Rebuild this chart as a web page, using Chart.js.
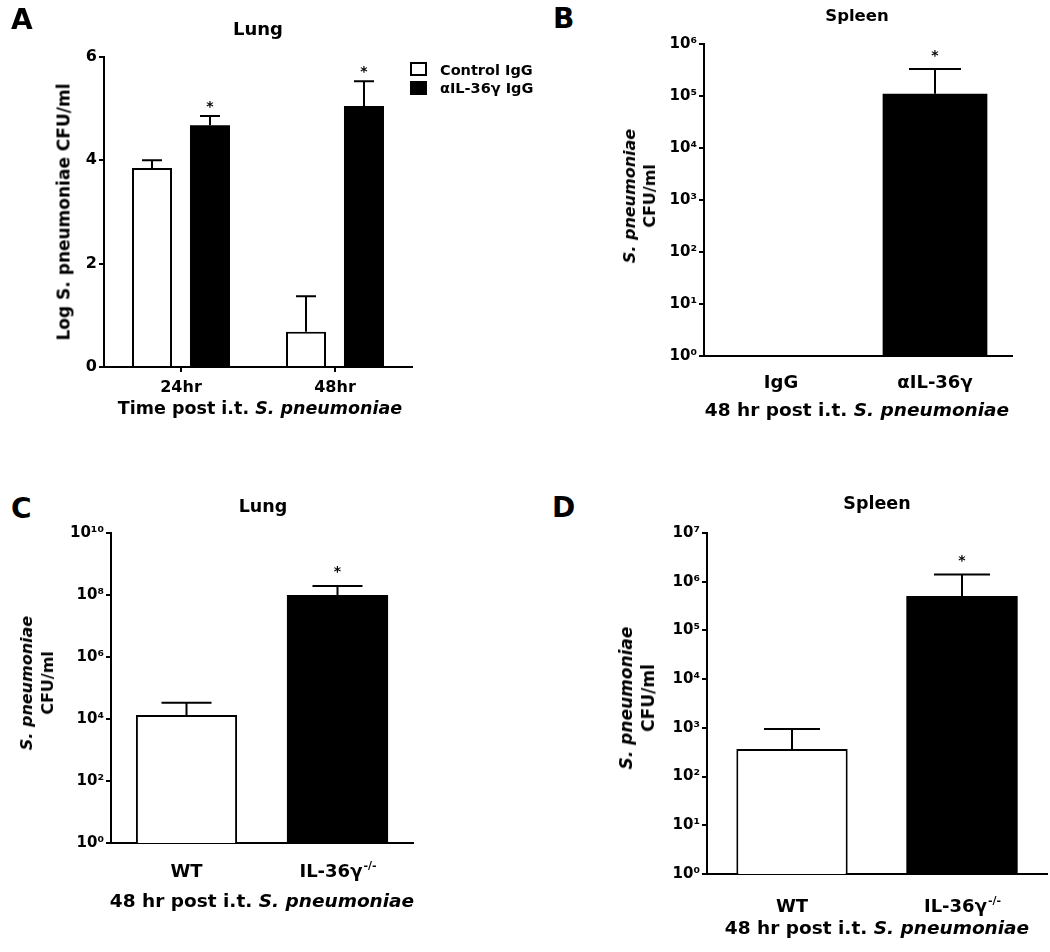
<!DOCTYPE html>
<html>
<head>
<meta charset="utf-8">
<script src="https://cdn.jsdelivr.net/npm/chart.js@4.4.1/dist/chart.umd.min.js"></script>
<style>
html, body { margin: 0; padding: 0; background: #fff; }
#fig { position: relative; width: 1050px; height: 952px; overflow: hidden;
       font-family: "DejaVu Sans", sans-serif; font-weight: bold; color: #000; }
canvas { position: absolute; }
.t { position: absolute; white-space: nowrap; line-height: 1; }
.box { position: absolute; box-sizing: border-box; border: 2px solid #000; }
</style>
</head>
<body>
<div id="fig"></div>
<script>
// ---------------- DATA ----------------
// A: lung, log CFU/ml
const catsA = ['24hr', '48hr'];
const controlA = [3.85, 0.68];
const controlSemA = [0.15, 0.69];
const antiA = [4.68, 5.05];
const antiSemA = [0.18, 0.48];
const starsControlA = ['', ''];
const starsAntiA = ['*', '*'];
const ticksA = [0, 2, 4, 6];

// B: spleen, 48 hr
const catsB = ['IgG', 'αIL-36γ'];
const valsB = [1, 1.1e5];
const semB = [0, 2.2e5];
const starsB = ['', '*'];
const ticksB = [1, 1e1, 1e2, 1e3, 1e4, 1e5, 1e6];

// C: lung, WT vs knockout
const catsC = ['WT', 'IL-36γ'];
const supsC = ['', '-/-'];
const valsC = [1.35e4, 1.0e8];
const semC = [2.0e4, 9.5e7];
const starsC = ['', '*'];
const ticksC = [1, 1e2, 1e4, 1e6, 1e8, 1e10];

// D: spleen, WT vs knockout
const catsD = ['WT', 'IL-36γ'];
const supsD = ['', '-/-'];
const valsD = [3.7e2, 5.1e5];
const semD = [5.8e2, 8.9e5];
const starsD = ['', '*'];
const ticksD = [1, 1e1, 1e2, 1e3, 1e4, 1e5, 1e6, 1e7];

const FONT = '"DejaVu Sans", sans-serif';
const SUP = { '0': '⁰', '1': '¹', '2': '²', '3': '³', '4': '⁴', '5': '⁵', '6': '⁶', '7': '⁷', '8': '⁸', '9': '⁹' };
const fig = document.getElementById('fig');

// ================= PLUGINS =================
// upper SEM whisker + significance star above each bar
const errBars = {
    id: 'errBars',
    afterDatasetsDraw(chart, args, opts) {
        const ctx = chart.ctx;
        const y = chart.scales.y;
        chart.data.datasets.forEach((ds, i) => {
            chart.getDatasetMeta(i).data.forEach((bar, j) => {
                const v = ds.data[j];
                const e = ds.sem ? ds.sem[j] : 0;
                const top = y.getPixelForValue(v + e);
                ctx.save();
                ctx.strokeStyle = '#000';
                ctx.lineWidth = 2;
                if (e > 0) {
                    ctx.beginPath();
                    ctx.moveTo(bar.x, bar.y);
                    ctx.lineTo(bar.x, top);
                    ctx.moveTo(bar.x - opts.cap, top);
                    ctx.lineTo(bar.x + opts.cap, top);
                    ctx.stroke();
                }
                const s = ds.stars && ds.stars[j];
                if (s) {
                    ctx.fillStyle = '#000';
                    ctx.font = 'bold 14px ' + FONT;
                    ctx.textAlign = 'center';
                    ctx.textBaseline = 'alphabetic';
                    ctx.fillText(s, bar.x, top - opts.star);
                }
                ctx.restore();
            });
        });
    }
};

// category labels under the x axis, with optional superscript
const xLabels = {
    id: 'xLabels',
    afterDraw(chart, args, opts) {
        const ctx = chart.ctx;
        const x = chart.scales.x;
        const base = chart.chartArea.bottom + opts.offset;
        ctx.save();
        ctx.fillStyle = '#000';
        ctx.textBaseline = 'alphabetic';
        ctx.textAlign = 'left';
        opts.labels.forEach((lab, i) => {
            const cx = x.getPixelForValue(i);
            const sup = (opts.sups && opts.sups[i]) || '';
            const f1 = 'bold ' + opts.size + 'px ' + FONT;
            const f2 = 'bold ' + Math.round(opts.size * 0.6) + 'px ' + FONT;
            ctx.font = f1;
            const w1 = ctx.measureText(lab).width;
            ctx.font = f2;
            const w2 = sup ? ctx.measureText(sup).width : 0;
            const left = cx - (w1 + w2) / 2;
            ctx.font = f1;
            ctx.fillText(lab, left, base);
            if (sup) {
                ctx.font = f2;
                ctx.fillText(sup, left + w1 + 1, base - opts.size * 0.42);
            }
        });
        ctx.restore();
    }
};

// ================= HELPERS =================
function addText(html, x, base, size, align) {
    const d = document.createElement('div');
    d.className = 't';
    d.innerHTML = html;
    d.style.fontSize = size + 'px';
    d.style.left = x + 'px';
    d.style.top = (base - 0.846 * size) + 'px';
    if (align === 'center') d.style.transform = 'translateX(-50%)';
    fig.appendChild(d);
}

function addRotated(html, cx, cy, size, lh) {
    const d = document.createElement('div');
    d.className = 't';
    d.innerHTML = html;
    d.style.fontSize = size + 'px';
    d.style.lineHeight = lh + 'px';
    d.style.textAlign = 'center';
    d.style.left = cx + 'px';
    d.style.top = cy + 'px';
    d.style.transform = 'translate(-50%,-50%) rotate(-90deg)';
    fig.appendChild(d);
}

function addBox(x, y, w, h, fill) {
    const d = document.createElement('div');
    d.className = 'box';
    Object.assign(d.style, { left: x + 'px', top: y + 'px', width: w + 'px', height: h + 'px', background: fill });
    fig.appendChild(d);
}

function logLabel(v) {
    const e = String(Math.round(Math.log10(v)));
    return '10' + e.split('').map(c => SUP[c]).join('');
}

// box: canvas rect; yw: y-axis width; pt/pr: top/right padding
function makeChart(box, yw, pt, pr, cfg) {
    const c = document.createElement('canvas');
    c.width = box.w;
    c.height = box.h;
    c.style.left = box.x + 'px';
    c.style.top = box.y + 'px';
    fig.appendChild(c);

    const xh = cfg.xh;
    const yScale = Object.assign({
        border: { display: true, color: '#000', width: 2 },
        grid: { display: true, drawOnChartArea: false, drawTicks: true, tickLength: 5, color: '#000', lineWidth: 2 },
        ticks: { color: '#000', font: { family: FONT, size: 16, weight: 'bold' }, padding: 2 },
        afterBuildTicks: s => { s.ticks = cfg.yTicks.map(v => ({ value: v })); },
        afterFit: s => { s.width = yw; }
    }, cfg.y);

    return new Chart(c, {
        type: 'bar',
        data: { labels: cfg.labels, datasets: cfg.datasets },
        options: {
            responsive: false,
            animation: false,
            devicePixelRatio: 1,
            layout: { padding: { top: pt, right: pr, left: 0, bottom: 0 } },
            scales: {
                x: {
                    border: { display: true, color: '#000', width: 2 },
                    grid: cfg.xTicks
                        ? { display: true, offset: false, drawOnChartArea: false, tickLength: 5, color: '#000', lineWidth: 2 }
                        : { display: false },
                    ticks: { display: false },
                    afterFit: s => { s.height = xh; }
                },
                y: yScale
            },
            plugins: {
                legend: { display: false },
                tooltip: { enabled: false },
                errBars: cfg.err,
                xLabels: cfg.xl
            }
        },
        plugins: [errBars, xLabels]
    });
}

const logTicks = { color: '#000', font: { family: FONT, size: 15, weight: 'bold' }, padding: 2, callback: logLabel };

// ================= PANEL A =================
makeChart({ x: 30, y: 30, w: 400, h: 380 }, 74, 27, 18, {
    labels: catsA,
    xh: 43,
    xTicks: true,
    yTicks: ticksA,
    y: { type: 'linear', min: 0, max: 6 },
    datasets: [
        { data: controlA, sem: controlSemA, stars: starsControlA, backgroundColor: '#fff', borderColor: '#000',
          borderWidth: 2, categoryPercentage: 0.753, barPercentage: 0.69 },
        { data: antiA, sem: antiSemA, stars: starsAntiA, backgroundColor: '#000',
          borderWidth: 0, categoryPercentage: 0.753, barPercentage: 0.69 }
    ],
    err: { cap: 10, star: 5 },
    xl: { labels: catsA, size: 16, offset: 25 }
});

// ================= PANEL B =================
makeChart({ x: 640, y: 20, w: 400, h: 380 }, 64, 24, 28, {
    labels: catsB,
    xh: 44,
    yTicks: ticksB,
    y: { type: 'logarithmic', min: 1, max: 1e6, ticks: logTicks },
    datasets: [
        { data: valsB, sem: semB, stars: starsB, backgroundColor: ['#fff', '#000'], borderColor: '#000',
          borderWidth: [2, 0], categoryPercentage: 1, barPercentage: 0.68 }
    ],
    err: { cap: 26, star: 9 },
    xl: { labels: catsB, size: 18, offset: 32 }
});

// ================= PANEL C =================
makeChart({ x: 50, y: 505, w: 390, h: 390 }, 61, 28, 27, {
    labels: catsC,
    xh: 52,
    yTicks: ticksC,
    y: { type: 'logarithmic', min: 1, max: 1e10, ticks: logTicks },
    datasets: [
        { data: valsC, sem: semC, stars: starsC, backgroundColor: ['#fff', '#000'], borderColor: '#000',
          borderWidth: [2, 0], categoryPercentage: 1, barPercentage: 0.67 }
    ],
    err: { cap: 25, star: 10 },
    xl: { labels: catsC, sups: supsC, size: 18, offset: 34 }
});

// ================= PANEL D =================
makeChart({ x: 640, y: 505, w: 410, h: 420 }, 67, 28, 3, {
    labels: catsD,
    xh: 51,
    yTicks: ticksD,
    y: { type: 'logarithmic', min: 1, max: 1e7, ticks: logTicks },
    datasets: [
        { data: valsD, sem: semD, stars: starsD, backgroundColor: ['#fff', '#000'], borderColor: '#000',
          borderWidth: [2, 0], categoryPercentage: 1, barPercentage: 0.655 }
    ],
    err: { cap: 28, star: 10 },
    xl: { labels: catsD, sups: supsD, size: 18, offset: 38 }
});

// ================= TEXT =================
// panel letters
addText('A', 11, 30, 28, 'left');
addText('B', 553, 29, 28, 'left');
addText('C', 11, 519, 28, 'left');
addText('D', 552, 518, 28, 'left');

// panel titles
addText('Lung', 258, 35, 18, 'center');
addText('Spleen', 857, 22, 16.5, 'center');
addText('Lung', 263, 513, 17.5, 'center');
addText('Spleen', 877, 510, 17.5, 'center');

// legend of A
addBox(410, 62, 17, 14, '#fff');
addBox(410, 81, 17, 14, '#000');
addText('Control IgG', 440, 75, 14.5, 'left');
addText('αIL-36γ IgG', 440, 93, 14.5, 'left');

// x axis titles
addText('Time post i.t. <i>S. pneumoniae</i>', 260, 415, 17.5, 'center');
addText('48 hr post i.t. <i>S. pneumoniae</i>', 857, 417, 18.5, 'center');
addText('48 hr post i.t. <i>S. pneumoniae</i>', 262, 908, 18.5, 'center');
addText('48 hr post i.t. <i>S. pneumoniae</i>', 877, 935, 18.5, 'center');

// y axis titles
addRotated('Log S. pneumoniae CFU/ml', 63.5, 212, 17, 17);
addRotated('<i>S. pneumoniae</i><br>CFU/ml', 640, 196, 16, 20);
addRotated('<i>S. pneumoniae</i><br>CFU/ml', 36.5, 683, 16, 21);
addRotated('<i>S. pneumoniae</i><br>CFU/ml', 637, 698, 17, 22);
</script>
</body>
</html>
